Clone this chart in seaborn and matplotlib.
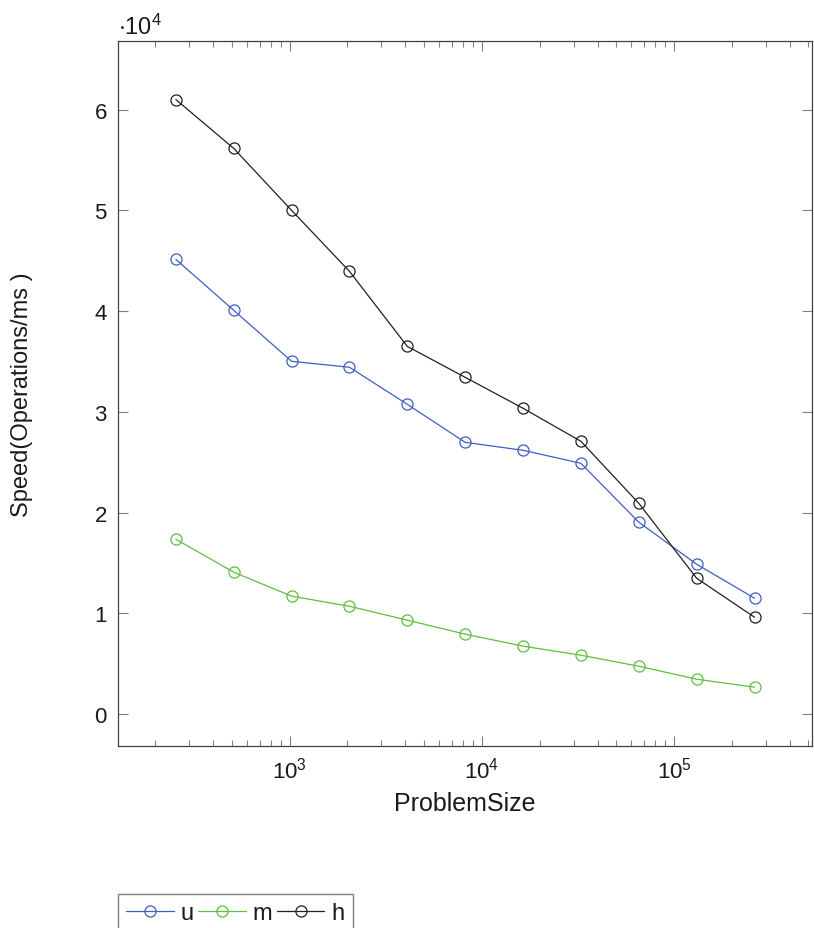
import numpy as np
import pandas as pd
import seaborn as sns
import matplotlib.pyplot as plt
from matplotlib.ticker import LogLocator, NullFormatter, FixedLocator

# data (speed in units of 10^4 operations/ms)
problem_size = [256, 512, 1024, 2048, 4096, 8192, 16384, 32768, 65536, 131072, 262144]
speed_u = [4.514, 4.008, 3.502, 3.443, 3.075, 2.698, 2.619, 2.490, 1.905, 1.488, 1.151]
speed_m = [1.736, 1.409, 1.171, 1.071, 0.933, 0.794, 0.675, 0.585, 0.476, 0.347, 0.268]
speed_h = [6.100, 5.615, 5.000, 4.395, 3.650, 3.343, 3.036, 2.708, 2.093, 1.349, 0.962]
series_names = ["u", "m", "h"]
series_colors = ["#3f5fbf", "#5fbf3f", "#202020"]

sns.set_style("ticks")
plt.rcParams['font.family'] = ['Liberation Sans', 'DejaVu Sans']
plt.rcParams['font.size'] = 15
plt.rcParams['mathtext.fontset'] = 'custom'
plt.rcParams['mathtext.rm'] = 'Liberation Sans'

df = pd.DataFrame({"ProblemSize": problem_size, "u": speed_u, "m": speed_m, "h": speed_h})
long = df.melt(id_vars="ProblemSize", var_name="series", value_name="speed")

fig = plt.figure(figsize=(8.14, 9.29), dpi=100)
ax = fig.add_axes([0.145, 0.196, 0.853, 0.759])

for name, col in zip(series_names, series_colors):
    sub = long[long["series"] == name]
    sns.lineplot(data=sub, x="ProblemSize", y="speed", ax=ax, color=col, label=name,
                 marker="o", markersize=8, markerfacecolor="none", markeredgecolor=col,
                 markeredgewidth=0.9, linewidth=0.9)

ax.set_xscale("log")
# pgfplots-style 10% enlargement of limits
lx = np.log10(problem_size)
pad = 0.1 * (lx.max() - lx.min())
ax.set_xlim(10 ** (lx.min() - pad), 10 ** (lx.max() + pad))
allv = speed_u + speed_m + speed_h
ypad = 0.1 * (max(allv) - min(allv))
ax.set_ylim(min(allv) - ypad, max(allv) + ypad)

ax.xaxis.set_major_locator(FixedLocator([1e3, 1e4, 1e5]))
ax.xaxis.set_minor_locator(LogLocator(base=10, subs=np.arange(2, 10)))
ax.xaxis.set_minor_formatter(NullFormatter())
ax.set_xticklabels([r"$\mathregular{10^{3}}$", r"$\mathregular{10^{4}}$", r"$\mathregular{10^{5}}$"])
ax.set_yticks(range(0, 7))
ax.set_yticklabels([str(i) for i in range(0, 7)])

ax.tick_params(which="both", direction="in", top=True, right=True, color="#808080", width=0.8)
ax.tick_params(which="major", length=7, labelsize=16, pad=8, labelcolor="#1a1a1a")
ax.tick_params(which="minor", length=4.5)
for sp in ax.spines.values():
    sp.set_color("#404040")
    sp.set_linewidth(0.9)

ax.set_xlabel("ProblemSize", fontsize=18, labelpad=6, color="#1a1a1a")
ax.set_ylabel("Speed(Operations/ms )", fontsize=17, labelpad=44, color="#1a1a1a")
ax.text(0.0, 1.003, r"$\mathregular{\cdot10^{4}}$", transform=ax.transAxes, fontsize=17,
        ha="left", va="bottom", color="#1a1a1a")

ax.legend(loc="upper left", bbox_to_anchor=(0.0, -0.21), ncol=3, frameon=True, fancybox=False,
          edgecolor="#606060", fontsize=17, handlelength=2.0, handletextpad=0.3,
          columnspacing=0.2, borderpad=0.35, borderaxespad=0, labelcolor="#1a1a1a")

fig.savefig("out.png", dpi=100)
